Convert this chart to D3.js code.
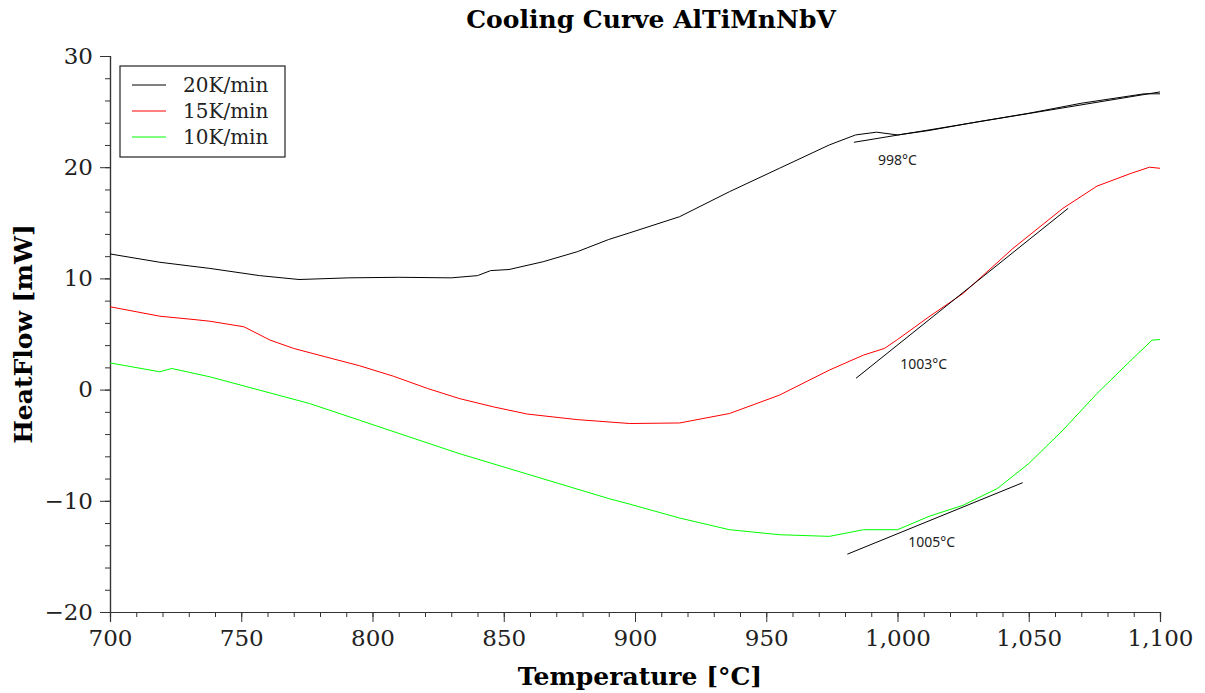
<!DOCTYPE html>
<html>
<head>
<meta charset="utf-8">
<script src="https://cdn.jsdelivr.net/npm/d3@7"></script>
<style>
  body { margin: 0; background: #fff; }
  .axis text { font-family: "DejaVu Serif", serif; font-size: 23px; fill: #222; }
  .axis path, .axis line { stroke: #333; }
</style>
</head>
<body>
<script>
// chart size
var w = 1205;
var h = 693;
var margin = {left: 110, right: 45, top: 56, bottom: 81};

// DATA
var seriesNames = ['20K/min', '15K/min', '10K/min'];
var seriesColors = ['#000000', '#ff0000', '#00ff00'];

var temp20 = [700,719,738,757,772,791,810,830,840,845,852,865,878,890,898,917,936,955,974,984,992,1000,1012,1031,1050,1070,1094,1100];
var heat20 = [12.2,11.45,10.9,10.25,9.9,10.05,10.1,10.05,10.25,10.7,10.8,11.5,12.4,13.5,14.1,15.55,17.8,19.9,22.0,22.9,23.15,22.9,23.3,24.1,24.85,25.75,26.6,26.6];

var temp15 = [700,719,732,738,751,761,770,782,795,808,821,833,846,859,878,898,917,936,955,974,987,995,1000,1012,1025,1044,1063,1076,1089,1096,1100];
var heat15 = [7.45,6.6,6.3,6.15,5.65,4.45,3.7,2.95,2.15,1.2,0.1,-0.8,-1.55,-2.2,-2.7,-3.05,-3.0,-2.15,-0.5,1.75,3.1,3.7,4.5,6.55,8.65,12.7,16.3,18.3,19.45,20.0,19.9];

var temp10 = [700,719,723.5,738,757,776,795,814,833,852,871,890,898,917,936,955,974,987,1000,1012,1025,1038,1050,1063,1076,1089,1097,1100];
var heat10 = [2.4,1.6,1.9,1.15,-0.05,-1.25,-2.75,-4.25,-5.75,-7.1,-8.45,-9.8,-10.3,-11.55,-12.6,-13.05,-13.2,-12.6,-12.6,-11.4,-10.4,-8.9,-6.65,-3.65,-0.35,2.65,4.45,4.5];

// onset tangents and their labels
var tangentT1 = [983.4, 984.2, 980.9];
var tangentH1 = [22.24, 1.02, -14.8];
var tangentT2 = [1100, 1065, 1047.7];
var tangentH2 = [26.77, 16.3, -8.37];
var onsetLabels = ['998°C', '1003°C', '1005°C'];
var onsetT = [992.6, 1001, 1004.1];
var onsetH = [20.2, 1.83, -14.18];

var xMajor = [700, 750, 800, 850, 900, 950, 1000, 1050, 1100];
var yMajor = [-20, -10, 0, 10, 20, 30];

var svg = d3.select('body').append('svg')
  .attr('width', w)
  .attr('height', h)
  .style('background-color', 'white');

var x = d3.scaleLinear().domain([700, 1100]).range([margin.left, w - margin.right]);
var y = d3.scaleLinear().domain([-20, 30]).range([h - margin.bottom, margin.top]);

// minor ticks first, then major ticks with labels
svg.append('g').attr('class', 'axis')
  .attr('transform', 'translate(0,' + (h - margin.bottom) + ')')
  .call(d3.axisBottom(x).tickValues(d3.range(700, 1101, 10)).tickSize(5).tickFormat(''));
svg.append('g').attr('class', 'axis')
  .attr('transform', 'translate(0,' + (h - margin.bottom) + ')')
  .call(d3.axisBottom(x).tickValues(xMajor).tickSize(10).tickPadding(8).tickFormat(d3.format(',')));

svg.append('g').attr('class', 'axis')
  .attr('transform', 'translate(' + margin.left + ',0)')
  .call(d3.axisLeft(y).tickValues(d3.range(-20, 31, 2)).tickSize(5).tickFormat(''));
svg.append('g').attr('class', 'axis')
  .attr('transform', 'translate(' + margin.left + ',0)')
  .call(d3.axisLeft(y).tickValues(yMajor).tickSize(10).tickPadding(7).tickFormat(d3.format('d')));

svg.selectAll('.axis .domain').attr('stroke-width', 1.2);

// curves
var allSeries = [
  d3.zip(temp20, heat20),
  d3.zip(temp15, heat15),
  d3.zip(temp10, heat10)
];
var line = d3.line()
  .x(function(d){ return x(d[0]); })
  .y(function(d){ return y(d[1]); });

svg.selectAll('path.curve')
  .data(allSeries)
  .join('path')
  .attr('class', 'curve')
  .attr('d', line)
  .attr('fill', 'none')
  .attr('stroke', function(d, i){ return seriesColors[i]; })
  .attr('stroke-width', 1);

// tangents
svg.selectAll('line.tangent')
  .data(tangentT1)
  .join('line')
  .attr('class', 'tangent')
  .attr('x1', function(d, i){ return x(tangentT1[i]); })
  .attr('y1', function(d, i){ return y(tangentH1[i]); })
  .attr('x2', function(d, i){ return x(tangentT2[i]); })
  .attr('y2', function(d, i){ return y(tangentH2[i]); })
  .attr('stroke', '#000')
  .attr('stroke-width', 1);

svg.selectAll('text.onset')
  .data(onsetLabels)
  .join('text')
  .attr('class', 'onset')
  .attr('x', function(d, i){ return x(onsetT[i]); })
  .attr('y', function(d, i){ return y(onsetH[i]); })
  .attr('font-family', '"Noto Sans", sans-serif')
  .attr('font-size', 14)
  .attr('fill', '#222')
  .text(function(d){ return d; });

// title and axis labels
svg.append('text')
  .attr('x', 651).attr('y', 28)
  .attr('text-anchor', 'middle')
  .attr('font-family', '"DejaVu Serif", serif')
  .attr('font-weight', 'bold')
  .attr('font-size', 25)
  .text('Cooling Curve AlTiMnNbV');

svg.append('text')
  .attr('x', 640).attr('y', 685)
  .attr('text-anchor', 'middle')
  .attr('font-family', '"DejaVu Serif", serif')
  .attr('font-weight', 'bold')
  .attr('font-size', 25)
  .text('Temperature [°C]');

svg.append('text')
  .attr('transform', 'translate(32,334) rotate(-90)')
  .attr('text-anchor', 'middle')
  .attr('font-family', '"DejaVu Serif", serif')
  .attr('font-weight', 'bold')
  .attr('font-size', 25)
  .text('HeatFlow [mW]');

// legend
var legend = svg.append('g').attr('transform', 'translate(120,66)');
legend.append('rect')
  .attr('x', 0).attr('y', 0)
  .attr('width', 165).attr('height', 91)
  .attr('fill', 'white')
  .attr('stroke', '#222')
  .attr('stroke-width', 1.2);
var item = legend.selectAll('g.item')
  .data(seriesNames)
  .join('g')
  .attr('class', 'item')
  .attr('transform', function(d, i){ return 'translate(0,' + (19 + i * 26) + ')'; });
item.append('line')
  .attr('x1', 12).attr('x2', 46)
  .attr('stroke', function(d, i){ return seriesColors[i]; })
  .attr('stroke-width', 1);
item.append('text')
  .attr('x', 63).attr('y', 7)
  .attr('font-family', '"DejaVu Serif", serif')
  .attr('font-size', 20)
  .attr('fill', '#222')
  .text(function(d){ return d; });
</script>
</body>
</html>
